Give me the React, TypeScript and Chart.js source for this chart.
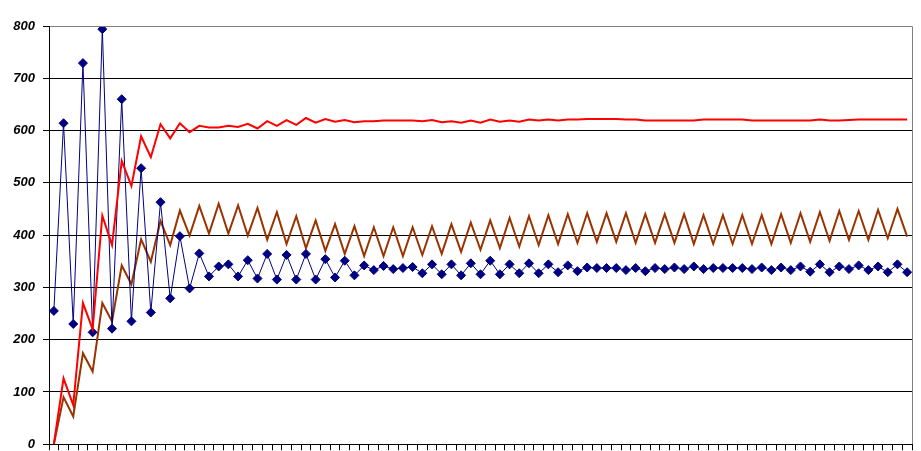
import React, { useEffect, useRef } from "react";
import { Chart, registerables } from "chart.js";

Chart.register(...registerables);

const categories: string[] = Array.from({ length: 89 }, (_, i) => String(i + 1));

const blueSeries: number[] = [
  255, 614, 230, 729, 214, 794, 221, 660, 235, 528,
  252, 463, 279, 398, 298, 365, 321, 340, 344, 321,
  352, 317, 364, 315, 362, 315, 364, 315, 354, 319,
  351, 323, 342, 333, 341, 335, 337, 339, 327, 344,
  325, 344, 323, 346, 325, 351, 325, 344, 327, 346,
  327, 344, 329, 342, 331, 338, 337, 337, 337, 333,
  337, 331, 337, 335, 338, 335, 340, 335, 337, 337,
  337, 337, 335, 338, 333, 338, 333, 340, 330, 344,
  329, 340, 335, 342, 333, 340, 329, 344, 329,
];

const redSeries: number[] = [
  0, 126, 75, 270, 220, 437, 381, 542, 494, 589,
  549, 612, 585, 614, 597, 609, 606, 606, 609, 607,
  613, 604, 618, 609, 620, 611, 624, 615, 622, 617,
  620, 616, 618, 618, 619, 619, 619, 619, 618, 620,
  616, 618, 615, 619, 615, 621, 617, 619, 617, 621,
  619, 621, 619, 621, 621, 622, 622, 622, 622, 621,
  621, 619, 619, 619, 619, 619, 619, 621, 621, 621,
  621, 621, 619, 619, 619, 619, 619, 619, 619, 621,
  619, 619, 620, 621, 621, 621, 621, 621, 621,
];

const brownSeries: number[] = [
  0, 90, 53, 174, 139, 270, 235, 342, 306, 392,
  349, 427, 381, 447, 399, 456, 403, 460, 403, 457,
  399, 452, 391, 444, 383, 436, 375, 428, 370, 421,
  364, 417, 360, 415, 360, 415, 360, 415, 362, 417,
  364, 421, 368, 424, 372, 428, 375, 433, 378, 436,
  381, 438, 383, 440, 385, 442, 387, 442, 387, 442,
  385, 440, 385, 440, 385, 440, 383, 438, 383, 438,
  383, 438, 383, 438, 383, 440, 385, 442, 387, 444,
  389, 446, 391, 446, 391, 448, 394, 450, 397,
];

const yTicks: number[] = [0, 100, 200, 300, 400, 500, 600, 700, 800];

const borderPlugin = {
  id: "grayBorder",
  afterDraw(chart: any) {
    const { ctx, chartArea } = chart;
    ctx.save();
    ctx.strokeStyle = "#808080";
    ctx.lineWidth = 1;
    ctx.beginPath();
    const r = Math.round(chartArea.right) + 0.5;
    const t = Math.round(chartArea.top) + 0.5;
    ctx.moveTo(Math.round(chartArea.left) + 1, t);
    ctx.lineTo(r, t);
    ctx.lineTo(r, Math.round(chartArea.bottom));
    ctx.stroke();
    ctx.restore();
  },
};

export default function App() {
  const ref = useRef<HTMLCanvasElement | null>(null);

  useEffect(() => {
    if (!ref.current) return;
    const chart = new Chart(ref.current, {
      type: "line",
      data: {
        labels: categories,
        datasets: [
          {
            label: "red",
            data: redSeries,
            borderColor: "#FF0000",
            backgroundColor: "#FF0000",
            borderWidth: 2,
            pointRadius: 0,
            tension: 0,
            fill: false,
          },
          {
            label: "blue",
            data: blueSeries,
            borderColor: "#000080",
            backgroundColor: "#000080",
            borderWidth: 1,
            pointStyle: "rectRot",
            pointRadius: 4.5,
            pointBorderWidth: 1,
            pointBackgroundColor: "#000080",
            pointBorderColor: "#000080",
            tension: 0,
            fill: false,
          },
          {
            label: "brown",
            data: brownSeries,
            borderColor: "#993300",
            backgroundColor: "#993300",
            borderWidth: 2,
            pointRadius: 0,
            tension: 0,
            fill: false,
          },
        ],
      },
      options: {
        animation: false,
        responsive: false,
        maintainAspectRatio: false,
        layout: { padding: { top: 26, right: 9, bottom: 0, left: 0 } },
        plugins: {
          legend: { display: false },
          tooltip: { enabled: false },
          title: { display: false },
        },
        scales: {
          x: {
            type: "category",
            offset: true,
            grid: {
              offset: true,
              drawOnChartArea: false,
              drawTicks: true,
              tickLength: 6,
              color: "#000000",
              tickColor: "#000000",
            },
            border: { display: true, color: "#000000", width: 1 },
            ticks: { display: false, autoSkip: false },
            afterFit: (scale: any) => {
              scale.height = 7;
            },
          },
          y: {
            min: 0,
            max: 800,
            afterBuildTicks: (scale: any) => {
              scale.ticks = yTicks.map((v) => ({ value: v }));
            },
            grid: {
              color: (c: any) => (c.tick && c.tick.value === 800 ? "#808080" : "#000000"),
              tickColor: "#000000",
              tickLength: 6,
              drawTicks: true,
              lineWidth: 1,
            },
            border: { display: true, color: "#000000", width: 1 },
            ticks: {
              padding: 8,
              color: "#000000",
              font: {
                family: "Arial, 'Liberation Sans', sans-serif",
                size: 13,
                weight: "bold",
                style: "italic",
              },
            },
            afterFit: (scale: any) => {
              scale.width = 49;
            },
          },
        },
      },
      plugins: [borderPlugin],
    });
    return () => chart.destroy();
  }, []);

  return (
    <div
      style={{
        position: "fixed",
        left: 0,
        top: 0,
        width: 921,
        height: 451,
        overflow: "hidden",
        background: "#fff",
      }}
    >
      <canvas ref={ref} width={921} height={460} style={{ display: "block" }} />
    </div>
  );
}
